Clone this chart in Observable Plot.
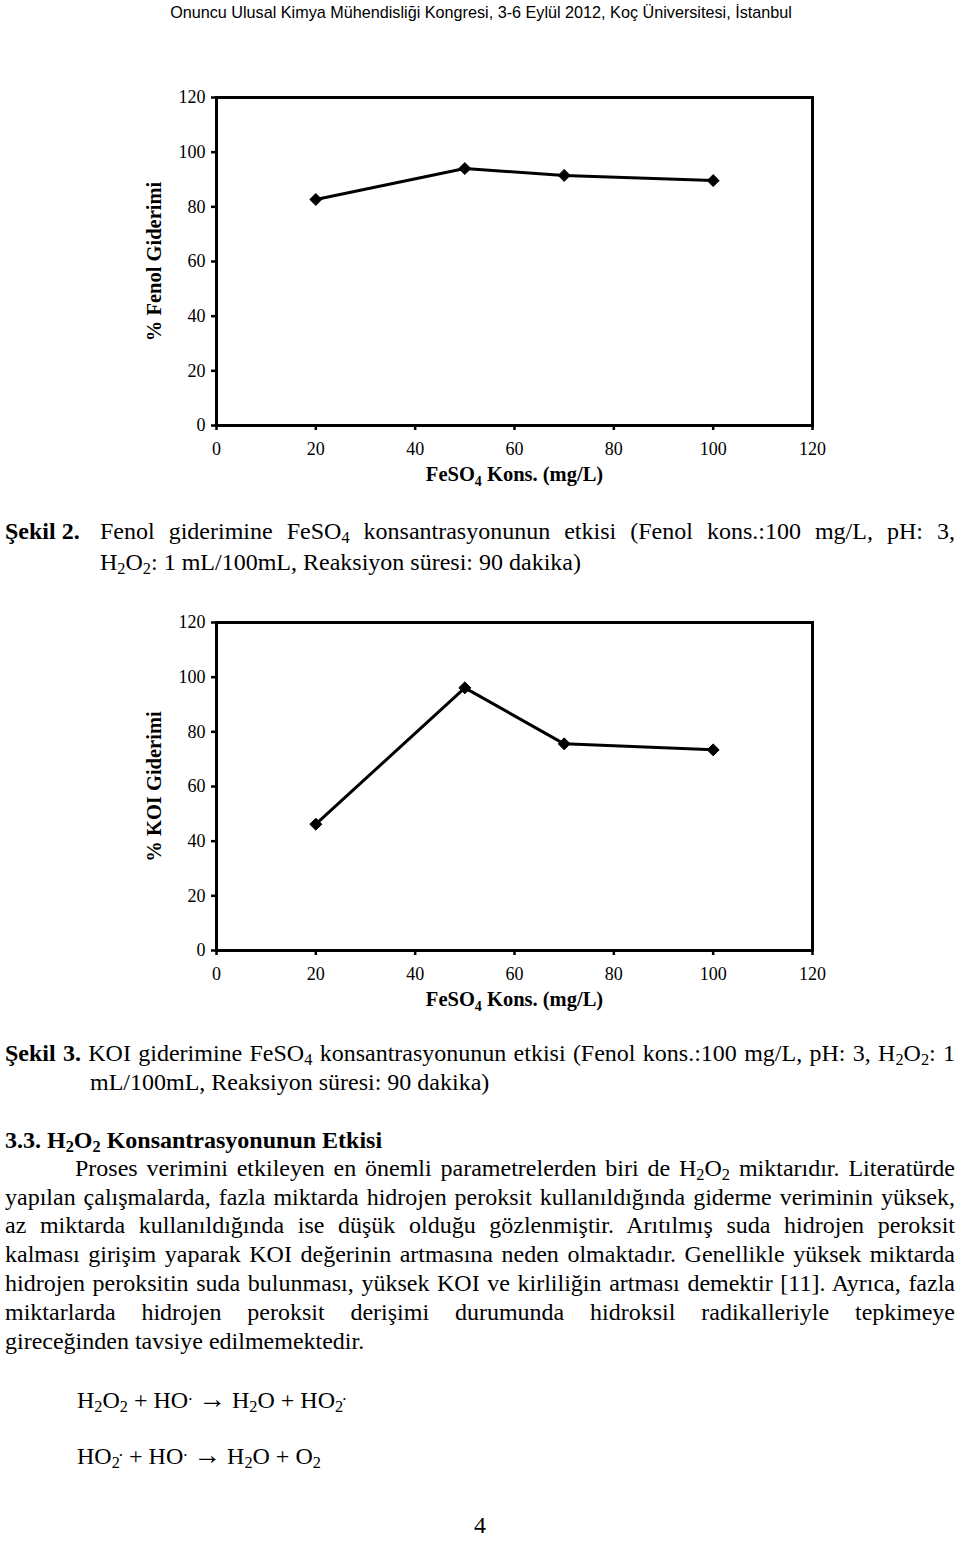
<!DOCTYPE html>
<html>
<head>
<meta charset="utf-8">
<script src="https://cdn.jsdelivr.net/npm/d3@7"></script>
<script src="https://cdn.jsdelivr.net/npm/@observablehq/plot@0.6"></script>
<style>
  html, body { margin: 0; padding: 0; background: #fff; }
  #page { position: relative; width: 960px; height: 1544px; overflow: hidden; background: #fff; color: #000;
    font-family: "Liberation Serif", "Times New Roman", serif; font-size: 24px; }
  .ln { position: absolute; line-height: 27px; height: 27px; white-space: nowrap; }
  .cap { line-height: 24px; height: 24px; }
  sub { font-size: 0.68em; vertical-align: -0.25em; line-height: 0; }
  sup { font-size: 0.7em; vertical-align: 0.45em; line-height: 0; }
  .arrow { font-size: 1.15em; line-height: 0; }
  b { font-weight: bold; }
  #header { position: absolute; top: 3px; left: 0; width: 962px; text-align: center;
    font-family: "Liberation Sans", Arial, sans-serif; font-size: 16.2px; line-height: 18px; }
  .chart { position: absolute; left: 0; width: 960px; }
  .chart svg g[aria-label="x-axis tick"] path,
  .chart svg g[aria-label="y-axis tick"] path,
  .chart svg .tick line { stroke-width: 2.5px; }
  .chart svg .domain { display: none; }
</style>
</head>
<body>
<div id="page">
  <div id="header">Onuncu Ulusal Kimya Mühendisliği Kongresi, 3-6 Eylül 2012, Koç Üniversitesi, İstanbul</div>

  <div class="chart" id="chart1" style="top:80px"></div>

  <div class="ln" style="top:518px; left:5px;"><b>Şekil 2.</b></div>
  <div class="ln j" data-w="855" style="top:518px; left:100px;">Fenol giderimine FeSO<sub>4</sub> konsantrasyonunun etkisi (Fenol kons.:100 mg/L, pH: 3,</div>
  <div class="ln" style="top:549px; left:100px;">H<sub>2</sub>O<sub>2</sub>: 1 mL/100mL, Reaksiyon süresi: 90 dakika)</div>

  <div class="chart" id="chart2" style="top:605px"></div>

  <div class="ln cap j" data-w="950" style="top:1041px; left:5px;"><b>Şekil 3.</b> KOI giderimine FeSO<sub>4</sub> konsantrasyonunun etkisi (Fenol kons.:100 mg/L, pH: 3, H<sub>2</sub>O<sub>2</sub>: 1</div>
  <div class="ln cap" style="top:1070px; left:90px;">mL/100mL, Reaksiyon süresi: 90 dakika)</div>

  <div class="ln" style="top:1127px; left:5px;"><b>3.3. H<sub>2</sub>O<sub>2</sub> Konsantrasyonunun Etkisi</b></div>
  <div class="ln j" data-w="880" style="top:1155px; left:75px;">Proses verimini etkileyen en önemli parametrelerden biri de H<sub>2</sub>O<sub>2</sub> miktarıdır. Literatürde</div>
  <div class="ln j" data-w="950" style="top:1184px; left:5px;">yapılan çalışmalarda, fazla miktarda hidrojen peroksit kullanıldığında giderme veriminin yüksek,</div>
  <div class="ln j" data-w="950" style="top:1212px; left:5px;">az miktarda kullanıldığında ise düşük olduğu gözlenmiştir. Arıtılmış suda hidrojen peroksit</div>
  <div class="ln j" data-w="950" style="top:1241px; left:5px;">kalması girişim yaparak KOI değerinin artmasına neden olmaktadır. Genellikle yüksek miktarda</div>
  <div class="ln j" data-w="950" style="top:1270px; left:5px;">hidrojen peroksitin suda bulunması, yüksek KOI ve kirliliğin artması demektir [11]. Ayrıca, fazla</div>
  <div class="ln j" data-w="950" style="top:1299px; left:5px;">miktarlarda hidrojen peroksit derişimi durumunda hidroksil radikalleriyle tepkimeye</div>
  <div class="ln" style="top:1328px; left:5px;">gireceğinden tavsiye edilmemektedir.</div>

  <div class="ln" style="top:1387px; left:77px;">H<sub>2</sub>O<sub>2</sub> + HO<sup>.</sup> <span class="arrow">→</span> H<sub>2</sub>O + HO<sub>2</sub><sup style="margin-left:-1px">.</sup></div>
  <div class="ln" style="top:1443px; left:77px;">HO<sub>2</sub><sup style="margin-left:-1px">.</sup> + HO<sup>.</sup> <span class="arrow">→</span> H<sub>2</sub>O + O<sub>2</sub></div>

  <div class="ln" style="top:1512px; left:0; width:960px; text-align:center;">4</div>
</div>

<script>
// ---- data ----
const feso4Conc = [20, 50, 70, 100];                 // FeSO4 Kons. (mg/L)
const fenolRemoval = [82.7, 94.0, 91.5, 89.6];       // % Fenol Giderimi (Şekil 2)
const koiRemoval = [46.2, 96.1, 75.6, 73.4];         // % KOI Giderimi (Şekil 3)
const xTicks = [0, 20, 40, 60, 80, 100, 120];
const yTicks = [0, 20, 40, 60, 80, 100, 120];
const xLabel = "FeSO4 Kons. (mg/L)";
const yLabel1 = "% Fenol Giderimi";
const yLabel2 = "% KOI Giderimi";

function makeChart(values, yLabel) {
  const data = feso4Conc.map((x, i) => ({x, y: values[i]}));
  const svg = Plot.plot({
    width: 960,
    height: 420,
    marginLeft: 216,
    marginRight: 148,
    marginTop: 17,
    marginBottom: 75,
    style: {fontFamily: "'Liberation Serif', 'Times New Roman', serif", fontSize: "18px", color: "#000", background: "transparent", overflow: "visible"},
    x: {domain: [0, 120], ticks: xTicks, tickSize: 5, tickPadding: 12, label: null, tickFormat: d => String(d)},
    y: {domain: [0, 120], ticks: yTicks, tickSize: 5, tickPadding: 6, label: null, tickFormat: d => String(d)},
    marks: [
      Plot.frame({stroke: "#000", strokeWidth: 3}),
      Plot.line(data, {x: "x", y: "y", stroke: "#000", strokeWidth: 3}),
      Plot.dot(data, {x: "x", y: "y", symbol: "diamond2", r: 5.4, fill: "#000", stroke: "#000", strokeWidth: 1}),
      Plot.text([yLabel], {text: d => d, frameAnchor: "left", textAnchor: "middle", rotate: -90, dx: -62, fontWeight: "bold", fontSize: 20.5}),
      Plot.text([xLabel], {text: d => d, frameAnchor: "bottom", textAnchor: "middle", dy: 55, fontWeight: "bold", fontSize: 20.5})
    ]
  });
  d3.select(svg).selectAll("text")
    .filter(function() { return this.textContent === xLabel; })
    .each(function() {
      const t = d3.select(this);
      t.text(null);
      t.append("tspan").text("FeSO");
      t.append("tspan").attr("dy", 5).attr("font-size", 14).text("4");
      t.append("tspan").attr("dy", -5).text(" Kons. (mg/L)");
    });
  return svg;
}

document.getElementById("chart1").appendChild(makeChart(fenolRemoval, yLabel1));
document.getElementById("chart2").appendChild(makeChart(koiRemoval, yLabel2));

// manual justification: stretch/squeeze word gaps so each line spans its width
document.querySelectorAll(".j").forEach(el => {
  const target = +el.dataset.w;
  el.innerHTML = "<span>" + el.innerHTML + "</span>";
  const span = el.firstChild;
  const natural = span.getBoundingClientRect().width;
  const gaps = (el.textContent.match(/ /g) || []).length;
  if (gaps > 0) el.style.wordSpacing = ((target - natural) / gaps) + "px";
});
</script>
</body>
</html>
